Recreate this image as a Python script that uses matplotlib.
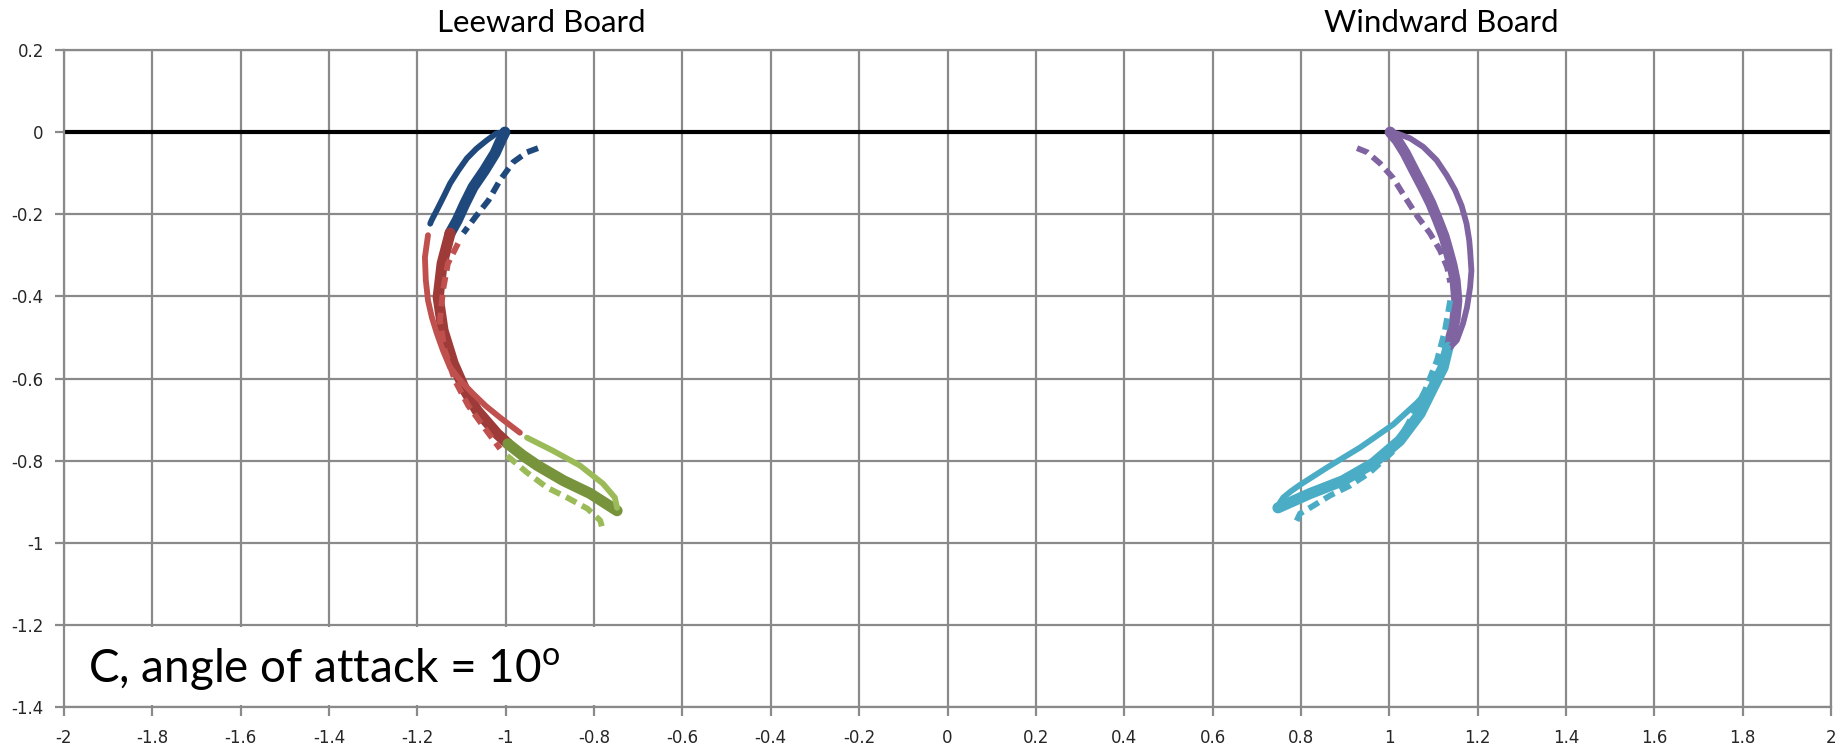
import matplotlib
matplotlib.use("Agg")
import matplotlib.pyplot as plt
from matplotlib.patches import Rectangle

plt.rcParams["axes.unicode_minus"] = False
plt.rcParams["mathtext.fontset"] = "custom"
plt.rcParams["mathtext.rm"] = "Lato"

# ---- axis ticks ----
x_ticks = [-2, -1.8, -1.6, -1.4, -1.2, -1, -0.8, -0.6, -0.4, -0.2, 0,
           0.2, 0.4, 0.6, 0.8, 1, 1.2, 1.4, 1.6, 1.8, 2]
x_tick_labels = ["-2", "-1.8", "-1.6", "-1.4", "-1.2", "-1", "-0.8", "-0.6",
                 "-0.4", "-0.2", "0", "0.2", "0.4", "0.6", "0.8", "1", "1.2",
                 "1.4", "1.6", "1.8", "2"]
y_ticks = [0.2, 0, -0.2, -0.4, -0.6, -0.8, -1, -1.2, -1.4]
y_tick_labels = ["0.2", "0", "-0.2", "-0.4", "-0.6", "-0.8", "-1", "-1.2", "-1.4"]

# ---- Leeward board: leading / middle / trailing sections ----
lee_lead_band_x = [-1.002, -1.012, -1.024, -1.048, -1.074, -1.093, -1.110, -1.126]
lee_lead_band_y = [0.0, -0.022, -0.051, -0.093, -0.134, -0.175, -0.215, -0.246]
lee_lead_outer_x = [-1.006, -1.021, -1.043, -1.066, -1.088, -1.107, -1.126,
                    -1.141, -1.156, -1.168, -1.171]
lee_lead_outer_y = [0.0, -0.003, -0.020, -0.040, -0.064, -0.093, -0.125,
                    -0.158, -0.190, -0.215, -0.223]
lee_lead_dash_x = [-0.927, -0.952, -0.983, -1.013, -1.039, -1.069, -1.096]
lee_lead_dash_y = [-0.039, -0.049, -0.073, -0.117, -0.166, -0.207, -0.246]

lee_mid_band_x = [-1.126, -1.144, -1.153, -1.142, -1.119, -1.092, -1.065, -1.020, -0.995]
lee_mid_band_y = [-0.246, -0.320, -0.402, -0.483, -0.563, -0.629, -0.678, -0.734, -0.759]
lee_mid_outer_x = [-1.176, -1.183, -1.181, -1.176, -1.167, -1.156, -1.142,
                   -1.126, -1.101, -1.074, -1.045, -1.013, -0.968]
lee_mid_outer_y = [-0.251, -0.305, -0.360, -0.410, -0.452, -0.490, -0.532,
                   -0.573, -0.607, -0.637, -0.667, -0.695, -0.732]
lee_mid_dash_x = [-1.108, -1.131, -1.142, -1.149, -1.138, -1.115, -1.085, -1.047, -1.013]
lee_mid_dash_y = [-0.271, -0.320, -0.385, -0.459, -0.532, -0.605, -0.666, -0.722, -0.771]

lee_trail_band_x = [-0.995, -0.962, -0.928, -0.869, -0.809, -0.748]
lee_trail_band_y = [-0.759, -0.787, -0.812, -0.849, -0.880, -0.922]
lee_trail_outer_x = [-0.952, -0.893, -0.832, -0.780, -0.753, -0.748]
lee_trail_outer_y = [-0.744, -0.776, -0.812, -0.856, -0.890, -0.915]
lee_trail_dash_x = [-0.997, -0.952, -0.906, -0.861, -0.815, -0.786, -0.780]
lee_trail_dash_y = [-0.788, -0.829, -0.866, -0.890, -0.917, -0.946, -0.971]

# ---- Windward board: leading / trailing sections ----
win_lead_band_x = [1.002, 1.018, 1.036, 1.056, 1.076, 1.094, 1.110, 1.124,
                   1.133, 1.142, 1.149, 1.153, 1.149, 1.142, 1.133]
win_lead_band_y = [0.0, -0.020, -0.051, -0.093, -0.134, -0.173, -0.215, -0.254,
                   -0.288, -0.324, -0.361, -0.410, -0.454, -0.490, -0.524]
win_lead_outer_x = [1.017, 1.047, 1.077, 1.107, 1.130, 1.149, 1.164, 1.175,
                    1.181, 1.183, 1.186, 1.183, 1.176, 1.167, 1.153, 1.138]
win_lead_outer_y = [-0.003, -0.015, -0.036, -0.068, -0.105, -0.141, -0.180,
                    -0.223, -0.263, -0.288, -0.337, -0.378, -0.427, -0.466,
                    -0.507, -0.524]
win_lead_dash_x = [0.927, 0.950, 0.979, 1.009, 1.036, 1.065, 1.092, 1.115, 1.131, 1.138]
win_lead_dash_y = [-0.039, -0.049, -0.076, -0.112, -0.159, -0.207, -0.246, -0.288, -0.329, -0.366]

win_trail_band_x = [1.133, 1.122, 1.099, 1.070, 1.024, 0.963, 0.895, 0.821, 0.748]
win_trail_band_y = [-0.524, -0.573, -0.622, -0.685, -0.751, -0.807, -0.849, -0.880, -0.915]
win_trail_outer_x = [0.748, 0.752, 0.760, 0.777, 0.798, 0.859, 0.934, 1.009,
                     1.063, 1.099, 1.122, 1.133]
win_trail_outer_y = [-0.915, -0.903, -0.890, -0.875, -0.859, -0.817, -0.768,
                     -0.712, -0.659, -0.617, -0.573, -0.524]
win_trail_dash_x = [1.138, 1.126, 1.108, 1.081, 1.047, 1.006, 0.956, 0.911, 0.866, 0.828, 0.798, 0.787]
win_trail_dash_y = [-0.410, -0.483, -0.556, -0.629, -0.702, -0.780, -0.829, -0.861, -0.885, -0.910, -0.929, -0.954]

# section colours: (band, outer surface, dashed)
BLUE = ("#1F497D", "#1F497D", "#1F497D")
RED = ("#9E3B39", "#C0504D", "#C0504D")
GREEN = ("#77933C", "#9BBB59", "#9BBB59")
PURPLE = ("#8064A2", "#8064A2", "#8064A2")
AQUA = ("#4BACC6", "#4BACC6", "#4BACC6")

sections = [
    (lee_lead_band_x, lee_lead_band_y, lee_lead_outer_x, lee_lead_outer_y,
     lee_lead_dash_x, lee_lead_dash_y, BLUE),
    (lee_mid_band_x, lee_mid_band_y, lee_mid_outer_x, lee_mid_outer_y,
     lee_mid_dash_x, lee_mid_dash_y, RED),
    (lee_trail_band_x, lee_trail_band_y, lee_trail_outer_x, lee_trail_outer_y,
     lee_trail_dash_x, lee_trail_dash_y, GREEN),
    (win_lead_band_x, win_lead_band_y, win_lead_outer_x, win_lead_outer_y,
     win_lead_dash_x, win_lead_dash_y, PURPLE),
    (win_trail_band_x, win_trail_band_y, win_trail_outer_x, win_trail_outer_y,
     win_trail_dash_x, win_trail_dash_y, AQUA),
]

fig = plt.figure(figsize=(18.45, 7.45), dpi=100)
ax = fig.add_axes([64 / 1845, 1 - 707 / 745, (1831 - 64) / 1845, (707 - 50) / 745])

GRID = "#8A8A8A"
ax.set_xlim(-2, 2)
ax.set_ylim(-1.4, 0.2)
ax.set_xticks(x_ticks)
ax.set_xticklabels(x_tick_labels)
ax.set_yticks(y_ticks)
ax.set_yticklabels(y_tick_labels)
ax.set_axisbelow(True)
ax.grid(True, color=GRID, linewidth=1.6)
for sp in ax.spines.values():
    sp.set_color(GRID)
    sp.set_linewidth(1.6)
ax.tick_params(direction="out", length=6.5, width=1.6, color=GRID,
               labelsize=12, labelcolor="#262626")
ax.tick_params(axis="y", pad=8)
ax.tick_params(axis="x", pad=9)

# horizontal reference line at y = 0
ax.axhline(0, color="black", linewidth=3, zorder=2)

for bx, by, ox, oy, dx, dy, col in sections:
    ax.plot(bx, by, color=col[0], linewidth=8, solid_capstyle="round",
            solid_joinstyle="round", zorder=3)
    ax.plot(ox, oy, color=col[1], linewidth=4.2, solid_capstyle="round",
            solid_joinstyle="round", zorder=4)
    ax.plot(dx, dy, color=col[2], linewidth=4.2, linestyle=(0, (2.0, 1.1)),
            zorder=4)

# caption box in the lower-left corner
ax.add_patch(Rectangle((-1.997, -1.396), 1.25, 0.192, facecolor="white",
                       edgecolor="none", zorder=1))
ax.text(-1.946, -1.341, r"C, angle of attack = 10$^{\mathrm{o}}$",
        fontfamily="Lato", fontsize=33, color="black", va="baseline",
        ha="left", zorder=5)

fig.text(541 / 1845, 1 - 32 / 745, "Leeward Board", fontfamily="Lato",
         fontsize=22.5, ha="center", va="baseline", color="black")
fig.text(1441 / 1845, 1 - 32 / 745, "Windward Board", fontfamily="Lato",
         fontsize=22.5, ha="center", va="baseline", color="black")

fig.savefig("out.png", dpi=100)
